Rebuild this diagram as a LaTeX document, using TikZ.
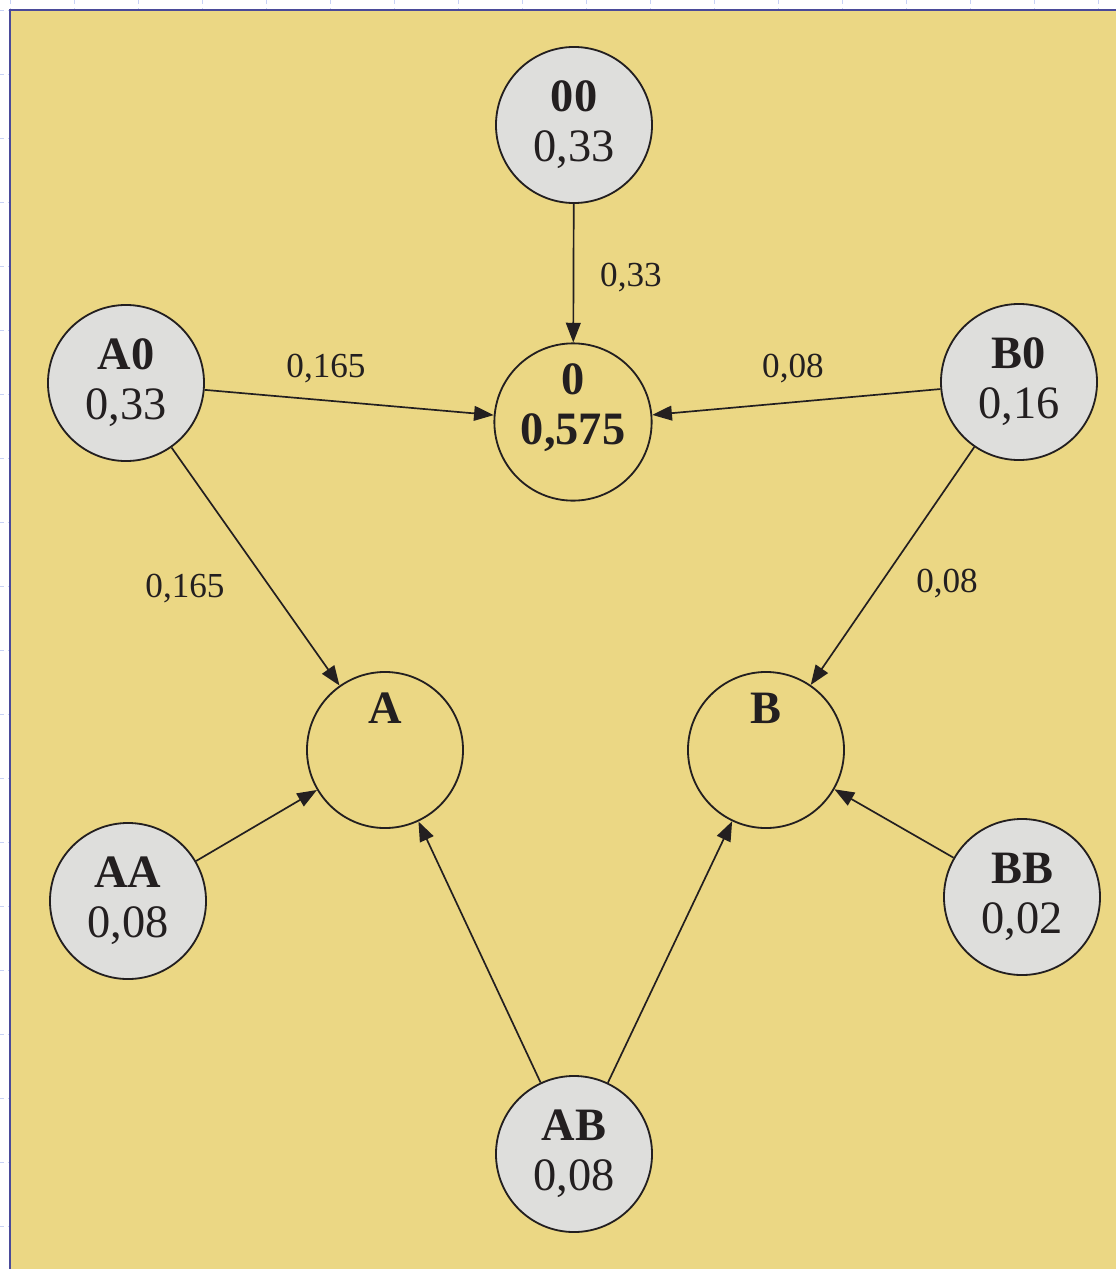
\documentclass[tikz,border=0pt]{standalone}
\usepackage{fontspec}
\setmainfont{Liberation Serif}
\usetikzlibrary{arrows.meta}

\definecolor{bgyellow}{RGB}{235,215,132}
\definecolor{frameblue}{RGB}{74,74,154}
\definecolor{gridblue}{RGB}{200,210,245}
\definecolor{nodegray}{RGB}{222,222,220}
\definecolor{inkblack}{RGB}{35,31,32}

\begin{document}
\begin{tikzpicture}[x=0.025cm, y=-0.025cm]
			\tikzstyle{State} = [circle, minimum size=3.9cm, inner sep=0pt, align=center, draw=inkblack, line width=1.3pt, text=inkblack, font=\fontsize{33}{35.5}\selectfont, fill=nodegray]
			\tikzstyle{Target} = [State, fill=none]
			\tikzstyle{Weight} = [anchor=base, inner sep=0pt, text=inkblack, font=\fontsize{25}{27}\selectfont]
			\tikzstyle{arrow} = [line width=1.2pt, draw=inkblack, ->, >={Triangle[length=14pt, width=10.5pt]}]
			
			\useasboundingbox (0,0) rectangle (1116,1269);
			%\draw[step=64,gray,very thin] (10,10) grid (1116,1269);
			\foreach \x in {10,74,...,1116}
				\draw [gridblue, dashed, thin] (\x,0) -- (\x,10);
			\foreach \y in {10,74,...,1269}
				\draw [gridblue, dashed, thin] (0,\y) -- (10,\y);
			\fill [bgyellow] (10,10) rectangle (1116,1269);
			\draw [frameblue, line width=2pt] (10,1269) -- (10,10) -- (1116,10);
			
			\node (n00) [State] at (574,125) {\textbf{00}\\0,33};
			\node (n0) [Target] at (573,422) {\textbf{0}\\\textbf{0,575}\\[-9.5pt]\mbox{}};
			\node (nA0) [State] at (126,383) {\textbf{A0}\\0,33};
			\node (nB0) [State] at (1019,382) {\textbf{B0}\\0,16};
			\node (nA) [Target] at (385,750) {\textbf{A}\\[24pt]\mbox{}};
			\node (nB) [Target] at (766,750) {\textbf{B}\\[24pt]\mbox{}};
			\node (nAA) [State] at (128,901) {\textbf{AA}\\0,08};
			\node (nBB) [State] at (1022,897) {\textbf{BB}\\0,02};
			\node (nAB) [State] at (574,1154) {\textbf{AB}\\0,08};
			
			\node (w00) [Weight] at (631,286) {0,33};
			\node (wA0) [Weight] at (326,377) {0,165};
			\node (wB0) [Weight] at (793,377) {0,08};
			\node (wA0A) [Weight] at (185,597) {0,165};
			\node (wB0B) [Weight] at (947,592) {0,08};
			
			\draw [arrow] (n00) -- (n0);
			\draw [arrow] (nA0) -- (n0);
			\draw [arrow] (nB0) -- (n0);
			\draw [arrow] (nA0) -- (nA);
			\draw [arrow] (nB0) -- (nB);
			\draw [arrow] (nAA) -- (nA);
			\draw [arrow] (nBB) -- (nB);
			\draw [arrow] (nAB) -- (nA);
			\draw [arrow] (nAB) -- (nB);
		\end{tikzpicture}
\end{document}
